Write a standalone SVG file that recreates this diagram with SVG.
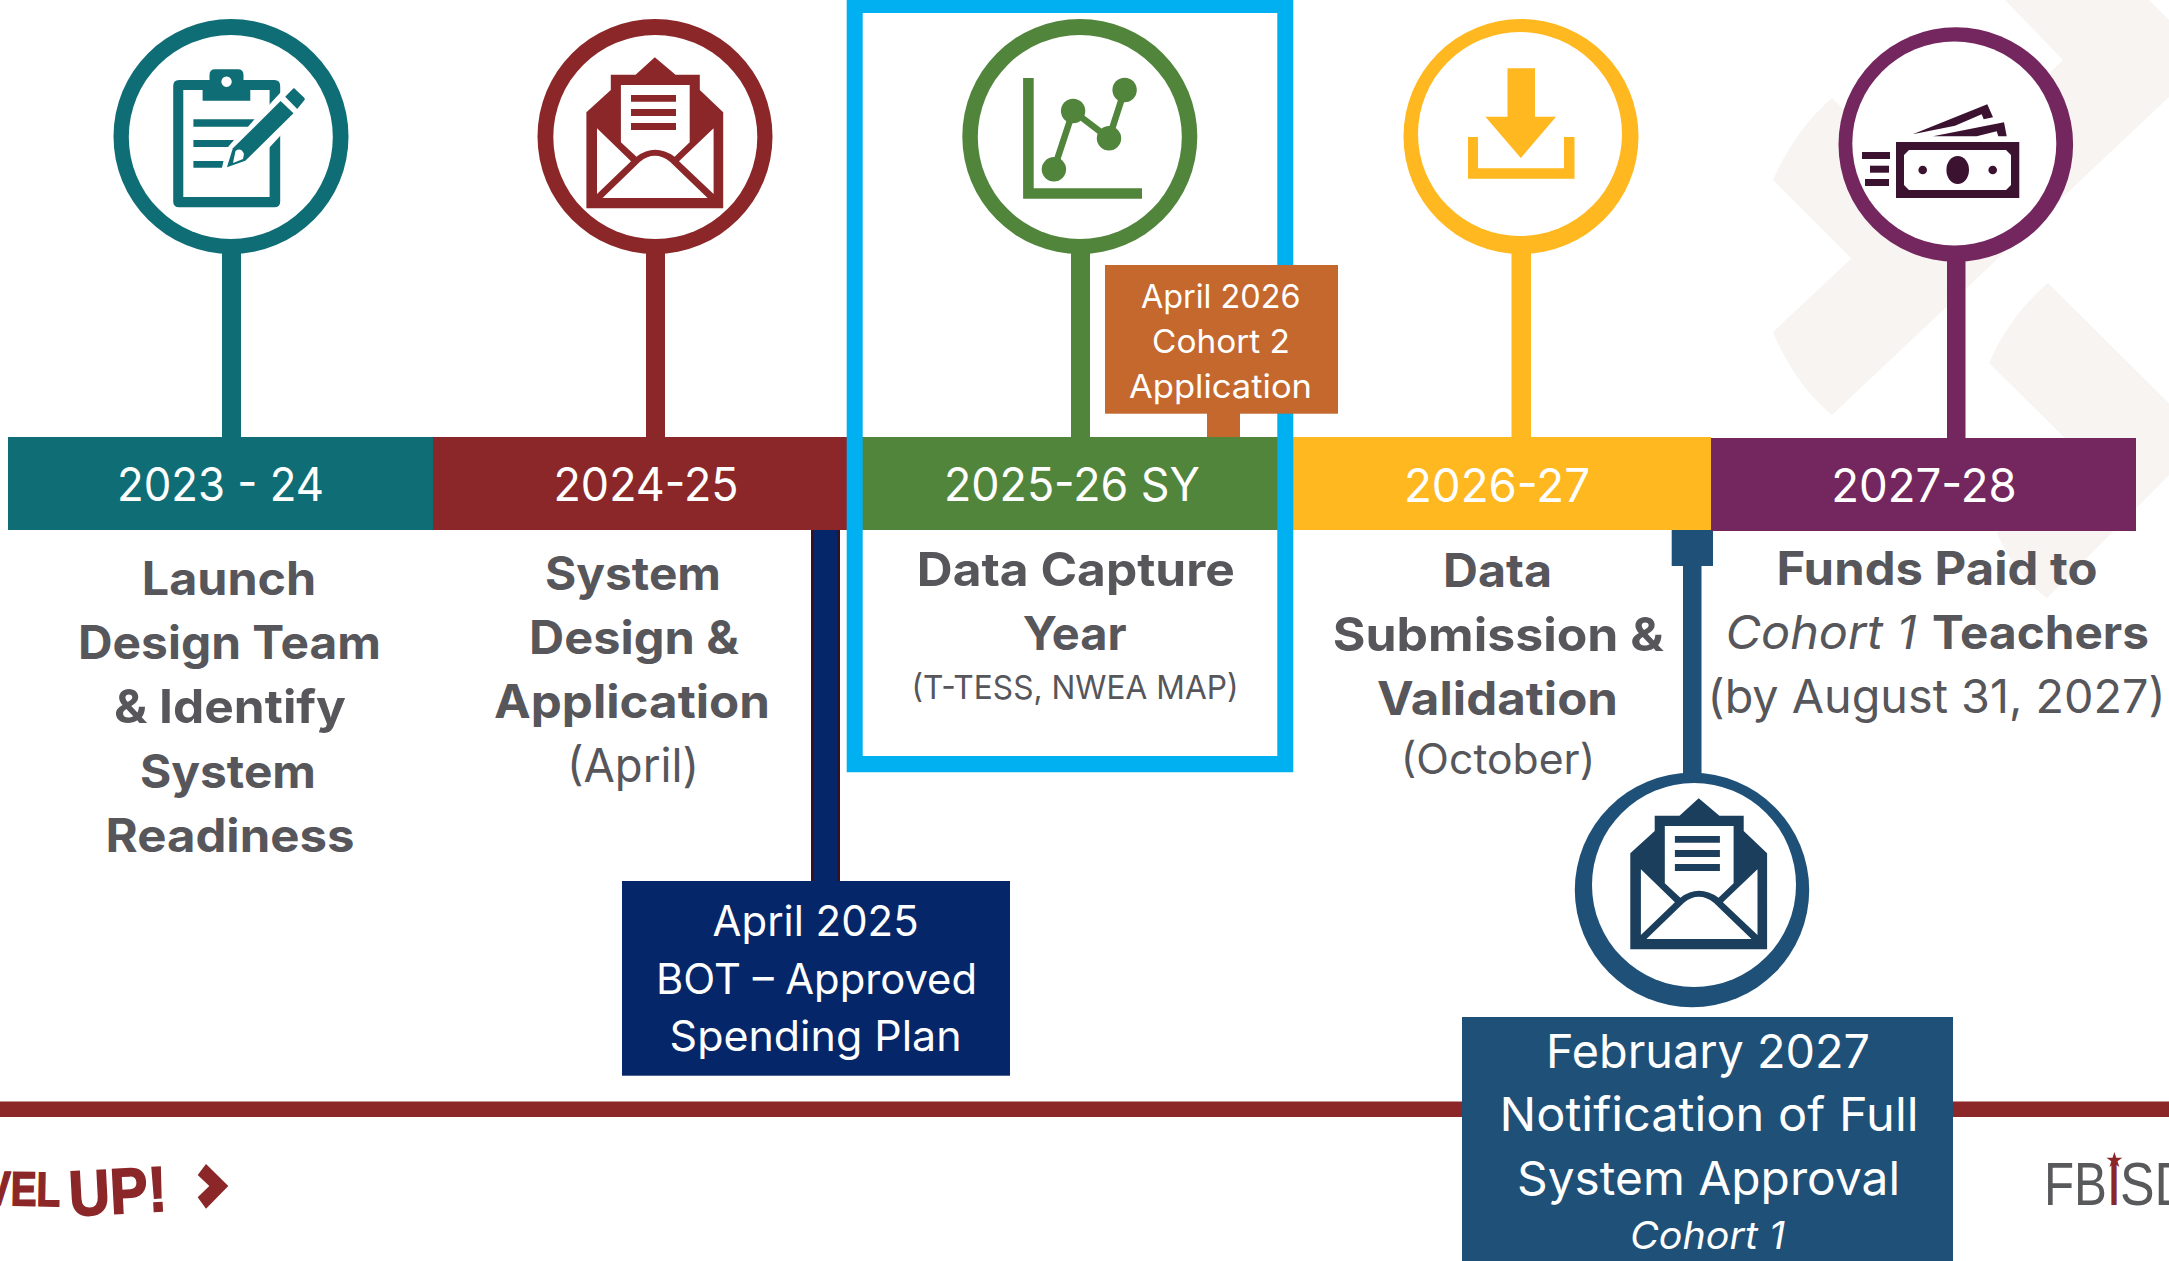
<svg xmlns="http://www.w3.org/2000/svg" xmlns:xlink="http://www.w3.org/1999/xlink" width="2169" height="1261" viewBox="0 0 2169 1261">
<style>
text{font-family:"Inter","Open Sans","Liberation Sans",sans-serif;text-anchor:middle}
.h{font-size:46.5px;font-weight:700;fill:#56565B}
.n{font-size:46.5px;font-weight:400;fill:#56565B}
.y{font-size:47px;fill:#fff}
.w{fill:#fff}
.inner{fill:#fff}
.lg{font-family:"Liberation Sans",sans-serif;font-weight:700;fill:#8B2729;stroke:#8B2729;stroke-width:1.6px;text-anchor:start}
.fb{font-family:"Liberation Sans",sans-serif;font-size:62px;fill:#58595B;text-anchor:start}
</style>
<defs>
<path id="env" fill-rule="evenodd" d="M654.8 57.3L675.5 74.7H699.8V90L723.2 112.3V208.3H586.4V112.3L610.8 90V74.7H635.6ZM620.9 85V142.3L636.5 156.7Q654.8 143 674.6 156.7L689.7 142.3V85ZM631 95V101.7H676V95ZM631 109V116H676V109ZM631 123V130H676V123ZM597 128.3V194L631 161.3ZM713.6 128.3L679 161.3L713.6 194ZM640 161.7L602.5 198H707.6L670 161.7Q654.8 150 640 161.7Z"/>
</defs>
<rect width="2169" height="1261" fill="#fff"/>
<g id="watermark" fill="#F7F4F1">
<path d="M2005 0L2063 60L1773 332Q1795 385 1832 415L2169 97V20L2149 0Z"/>
<path d="M1832 98Q1795 130 1773 180L1915 322L1990 255Z"/>
<path d="M2048 283L2205 439L2047 598Q2015 575 1997 533L2078 451L1989 363Q2010 315 2048 283Z"/>
</g>
<g id="rule"><rect x="0" y="1101.5" width="2169" height="15.5" fill="#8B2729"/></g>
<g id="connectors">
<rect x="222" y="240" width="19" height="198" fill="#0F6E75"/>
<rect x="646" y="240" width="19" height="198" fill="#8B2729"/>
<rect x="1071" y="240" width="19" height="198" fill="#52853C"/>
<rect x="1511.5" y="240" width="19.5" height="198" fill="#FFB81F"/>
<rect x="1947" y="250" width="18.5" height="188" fill="#74265E"/>
<rect x="811" y="530" width="29" height="352" fill="#3C1020"/>
<rect x="814" y="530" width="23" height="352" fill="#06266A"/>
<rect x="1683" y="530" width="18.5" height="250" fill="#1F5078"/>
<rect x="1671.7" y="530" width="41.3" height="36" fill="#1F5078"/>
<rect x="1207" y="413" width="33" height="24" fill="#C4682E"/>
</g>
<g id="band-2023"><rect x="8" y="437" width="425" height="93" fill="#0F6E75"/><text class="y" x="220.5" y="501" textLength="207" lengthAdjust="spacingAndGlyphs">2023 - 24</text></g>
<g id="band-2024"><rect x="433" y="437" width="415" height="93" fill="#8B2729"/><text class="y" x="646" y="501" textLength="185" lengthAdjust="spacingAndGlyphs">2024-25</text></g>
<g id="band-2025"><rect x="860" y="437" width="420" height="93" fill="#52853C"/><text class="y" x="1072" y="501" textLength="256" lengthAdjust="spacingAndGlyphs">2025-26 SY</text></g>
<g id="band-2026"><rect x="1290" y="437" width="421" height="93" fill="#FFB81F"/><text class="y" x="1497" y="501.5" textLength="186" lengthAdjust="spacingAndGlyphs">2026-27</text></g>
<g id="band-2027"><rect x="1711" y="438" width="425" height="93" fill="#74265E"/><text class="y" x="1924" y="502" textLength="185.5" lengthAdjust="spacingAndGlyphs">2027-28</text></g>
<g id="frame"><path fill="#00B0F0" fill-rule="evenodd" d="M846.7 0H1293.3V772.3H846.7ZM862.7 13V756H1277.3V13Z"/></g>
<g id="node-clipboard">
<circle cx="231" cy="136.5" r="117.5" fill="#0F6E75"/><circle class="inner" cx="230.8" cy="137" r="102"/>
<path fill="#0F6E75" fill-rule="evenodd" d="M179 80H209.5V75Q209.5 69.3 215 69.3H238Q243.5 69.3 243.5 75V80H274.5Q280.2 80 280.2 86V201.5Q280.2 207.3 274.5 207.3H179Q173.2 207.3 173.2 201.5V86Q173.2 80 179 80ZM183.3 90V197H269.6V90H250.3V100.7H202.6V90ZM226.5 76.5A5.2 5.2 0 1 0 226.6 76.5Z"/>
<path fill="#0F6E75" d="M193.4 119.3H254.5L248 126.7H193.4ZM193.4 140H234L228 147H193.4ZM193.4 161H223.5L222 167.7H193.4Z"/>
<path fill="#fff" d="M269 105L281 92V135L269 148Z"/>
<path fill="#0F6E75" stroke="#fff" stroke-width="5" paint-order="stroke" d="M280.6 101L293.5 113.3L245.3 160.7L226.9 167.3L232.9 148.3Z"/>
<path fill="#fff" d="M235.5 151Q241 147 244 154L243 159L233 163Z"/>
<path fill="#0F6E75" d="M293.5 88.3Q295 88 296 90L304 97.5Q305.5 99 304.5 100L297.2 109L285.2 96.7Z"/>
</g>
<g id="node-envelope">
<circle cx="655" cy="136.5" r="117.5" fill="#8B2729"/><circle class="inner" cx="655.3" cy="137" r="102"/>
<use xlink:href="#env" href="#env" fill="#8B2729"/>
</g>
<g id="node-chart">
<circle cx="1079.8" cy="136.5" r="117.5" fill="#52853C"/><circle class="inner" cx="1079.8" cy="137" r="102"/>
<path fill="#52853C" d="M1023.1 78H1033.7V188.3H1142V198.7H1023.1Z"/>
<path fill="none" stroke="#52853C" stroke-width="6.5" d="M1053.9 169.3L1073.1 111L1109 138.3L1124.6 90"/>
<g fill="#52853C"><circle cx="1053.9" cy="169.3" r="12.2"/><circle cx="1073.1" cy="111" r="12.2"/><circle cx="1109" cy="138.3" r="12.2"/><circle cx="1124.6" cy="90" r="12.2"/></g>
</g>
<g id="node-download">
<circle cx="1521" cy="136.5" r="117.5" fill="#FFB81F"/><circle class="inner" cx="1520" cy="134" r="102"/>
<path fill="#FFB81F" d="M1507.5 68.3H1535V116.7H1556L1520.8 158L1485.4 116.7H1507.5Z"/>
<path fill="#FFB81F" d="M1468 137H1478V168.3H1564V137H1574.5V178.7H1468Z"/>
</g>
<g id="node-money">
<circle cx="1955.8" cy="144.5" r="117.3" fill="#74265E"/><circle class="inner" cx="1954.3" cy="143.5" r="102"/>
<g fill="#3C1231">
<path fill-rule="evenodd" d="M1896 142H2019.3V198H1896ZM1909 150L1904 155V185L1909 190H2006L2011 185V155L2006 150Z"/>
<ellipse cx="1957.7" cy="170" rx="11.3" ry="14"/><circle cx="1922.7" cy="170" r="4.3"/><circle cx="1992.7" cy="170" r="4.3"/>
<rect x="1862" y="152" width="28" height="7"/><rect x="1870" y="165.7" width="19" height="7"/><rect x="1865" y="179" width="24" height="7"/>
<path d="M1912.7 134.3L1987.3 104.3L1993 117.3L1983.7 119.3L1981.7 114.3L1955 125.7Z"/>
<path d="M1933 136.3L2004 122.3L2006.7 136.3H1998.3L1996.7 131.3L1976.7 136.3Z"/>
</g>
</g>
<g id="node-notify">
<circle cx="1692" cy="890" r="117.2" fill="#1F5078"/><circle class="inner" cx="1694" cy="885" r="102"/>
<use xlink:href="#env" href="#env" transform="translate(1043.9 741)" fill="#1A3E5C"/>
</g>
<g id="label-2023" transform="translate(0 1)">
<text class="h" x="229" y="594" textLength="174.5" lengthAdjust="spacingAndGlyphs">Launch</text>
<text class="h" x="229.5" y="658" textLength="303" lengthAdjust="spacingAndGlyphs">Design Team</text>
<text class="h" x="230" y="722" textLength="232" lengthAdjust="spacingAndGlyphs">&amp; Identify</text>
<text class="h" x="228" y="787" textLength="176" lengthAdjust="spacingAndGlyphs">System</text>
<text class="h" x="230" y="851" textLength="249" lengthAdjust="spacingAndGlyphs">Readiness</text>
</g>
<g id="label-2024" transform="translate(0 1)">
<text class="h" x="633" y="589" textLength="176" lengthAdjust="spacingAndGlyphs">System</text>
<text class="h" x="634" y="652.7" textLength="210" lengthAdjust="spacingAndGlyphs">Design &amp;</text>
<text class="h" x="632" y="716.7" textLength="276" lengthAdjust="spacingAndGlyphs">Application</text>
<text class="n" x="633" y="781" textLength="132" lengthAdjust="spacingAndGlyphs">(April)</text>
</g>
<g id="label-2025" transform="translate(0 1)">
<text class="h" x="1075.8" y="585" textLength="318" lengthAdjust="spacingAndGlyphs">Data Capture</text>
<text class="h" x="1074.7" y="649.3" textLength="104" lengthAdjust="spacingAndGlyphs">Year</text>
<text class="n" x="1075" y="697.7" style="font-size:33px" textLength="327" lengthAdjust="spacingAndGlyphs">(T-TESS, NWEA MAP)</text>
</g>
<g id="label-2026" transform="translate(0 1)">
<text class="h" x="1497.5" y="586" textLength="109" lengthAdjust="spacingAndGlyphs">Data</text>
<text class="h" x="1498.3" y="650" textLength="331" lengthAdjust="spacingAndGlyphs">Submission &amp;</text>
<text class="h" x="1497.5" y="714" textLength="241" lengthAdjust="spacingAndGlyphs">Validation</text>
<text class="n" x="1498" y="773" style="font-size:42px" textLength="194.5" lengthAdjust="spacingAndGlyphs">(October)</text>
</g>
<g id="label-2027" transform="translate(0 1)">
<text class="h" x="1937" y="584" textLength="321" lengthAdjust="spacingAndGlyphs">Funds Paid to</text>
<text class="n" x="1821" y="648" font-style="italic" textLength="191" lengthAdjust="spacingAndGlyphs">Cohort 1</text>
<text class="h" x="2040.5" y="648" textLength="217" lengthAdjust="spacingAndGlyphs">Teachers</text>
<text class="n" x="1936.6" y="712" textLength="458" lengthAdjust="spacingAndGlyphs">(by August 31, 2027)</text>
</g>
<g id="callout-cohort2">
<rect x="1105" y="265" width="233" height="148.7" fill="#C4682E"/>
<text class="w" style="font-size:33px" x="1220.7" y="307.5" textLength="159.6" lengthAdjust="spacingAndGlyphs">April 2026</text>
<text class="w" style="font-size:33px" x="1221" y="352.5" textLength="138" lengthAdjust="spacingAndGlyphs">Cohort 2</text>
<text class="w" style="font-size:33px" x="1220.5" y="397.5" textLength="183" lengthAdjust="spacingAndGlyphs">Application</text>
</g>
<g id="callout-bot">
<rect x="622" y="881" width="388" height="194.7" fill="#06266A"/>
<text class="w" style="font-size:42px" x="815.6" y="936" textLength="206" lengthAdjust="spacingAndGlyphs">April 2025</text>
<text class="w" style="font-size:42px" x="816.5" y="993.7" textLength="321" lengthAdjust="spacingAndGlyphs">BOT – Approved</text>
<text class="w" style="font-size:42px" x="815.6" y="1051" textLength="292" lengthAdjust="spacingAndGlyphs">Spending Plan</text>
</g>
<g id="callout-feb">
<rect x="1462" y="1017" width="491" height="244" fill="#1F5078"/>
<text class="w" style="font-size:47px" x="1708" y="1067.7" textLength="324" lengthAdjust="spacingAndGlyphs">February 2027</text>
<text class="w" style="font-size:47px" x="1709" y="1131" textLength="419" lengthAdjust="spacingAndGlyphs">Notification of Full</text>
<text class="w" style="font-size:47px" x="1708.5" y="1195" textLength="383" lengthAdjust="spacingAndGlyphs">System Approval</text>
<text class="w" style="font-size:38px" font-style="italic" x="1707.5" y="1249" textLength="155" lengthAdjust="spacingAndGlyphs">Cohort 1</text>
</g>
<g id="brand-levelup" fill="#8B2729">
<text class="lg" style="font-size:48px" x="-65" y="1205" textLength="125" lengthAdjust="spacingAndGlyphs" transform="rotate(1 0 1205)">LEVEL</text>
<text class="lg" style="font-size:64px" x="70" y="1216" textLength="98" lengthAdjust="spacingAndGlyphs" transform="rotate(-3 70 1216)">UP!</text>
<path d="M206 1164L228.3 1186L206 1208.7L197.7 1197.3L209.3 1186L197.7 1175Z"/>
</g>
<g id="brand-fbisd">
<text class="fb" x="2044" y="1205" textLength="63" lengthAdjust="spacingAndGlyphs">FB</text>
<text class="fb" x="2109" y="1205" textLength="10" lengthAdjust="spacingAndGlyphs" style="fill:#8B2729;font-weight:700">I</text>
<text class="fb" x="2120" y="1205" textLength="72" lengthAdjust="spacingAndGlyphs">SD</text>
<path fill="#8B2729" d="M2114.4 1152L2116.3 1157.7H2122.3L2117.5 1161.3L2119.3 1167L2114.4 1163.5L2109.5 1167L2111.3 1161.3L2106.5 1157.7H2112.5Z"/>
</g>
</svg>
